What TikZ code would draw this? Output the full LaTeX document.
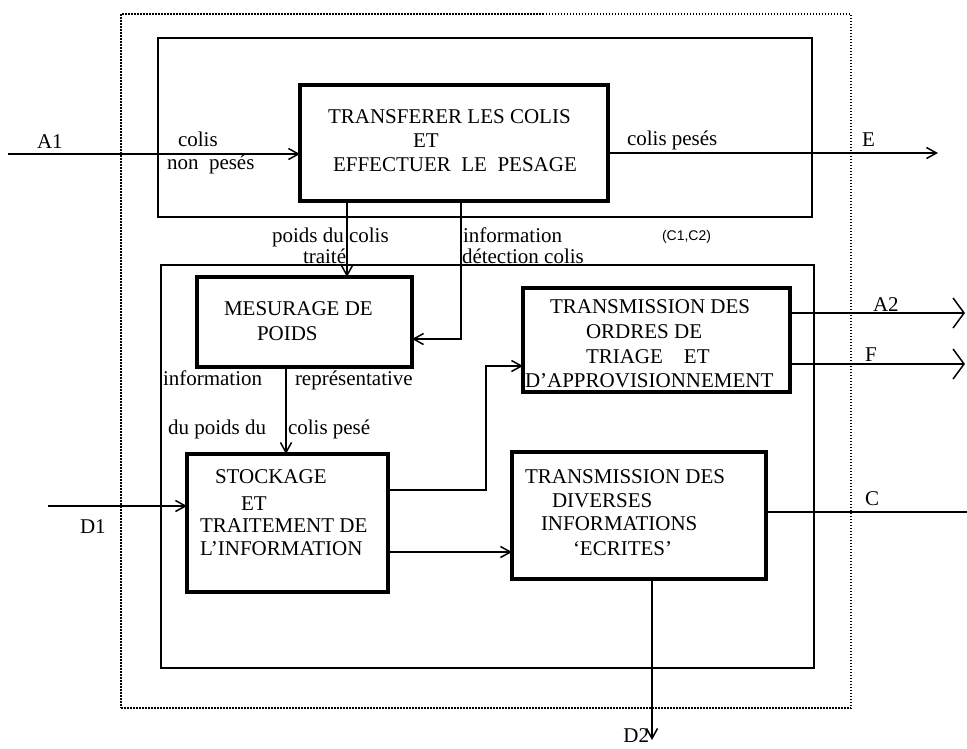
\documentclass[tikz,border=0pt]{standalone}
\usepackage{fontspec}
\setmainfont{Liberation Serif}
\setsansfont{Liberation Sans}
\usetikzlibrary{arrows.meta}
\begin{document}
\begin{tikzpicture}[x=1pt,y=-1pt,
  every node/.style={inner sep=0pt,outer sep=0pt},
  procbox/.style={draw,line width=3.2pt,rectangle},
  frame/.style={draw,line width=1.8pt,rectangle},
  sysbound/.style={draw,line width=1.9pt,dash pattern=on 1.5pt off 1.5pt,rectangle},
  flow/.style={line width=1.5pt,-{Straight Barb[length=10pt,width=11pt,line width=1.5pt]}},
  outflow/.style={line width=1.5pt,-{Straight Barb[length=11pt,width=30pt,line width=1.5pt]}},
  txt/.style={anchor=base west,font=\fontsize{21}{25}\selectfont},
  txtr/.style={anchor=base east,font=\fontsize{21}{25}\selectfont},
  small/.style={anchor=base west,font=\sffamily\fontsize{14}{16}\selectfont}]
\useasboundingbox (0,0) rectangle (967,748);
\clip (0,0) rectangle (967,748);
\fill[white] (0,0) rectangle (967,748);

% system boundary and the two sub-frames
\node[sysbound,minimum width=730pt,minimum height=694pt] (sys) at (486,361) {};
\node[frame,minimum width=654pt,minimum height=179pt] (frameA) at (485,127.5) {};
\node[frame,minimum width=653pt,minimum height=403pt] (frameB) at (487.5,466.5) {};

% process boxes
\node[procbox,minimum width=308pt,minimum height=116pt] (transf) at (454,143) {};
\node[procbox,minimum width=215pt,minimum height=90pt] (mes) at (304.5,322) {};
\node[procbox,minimum width=201pt,minimum height=138pt] (stock) at (287.5,523) {};
\node[procbox,minimum width=267pt,minimum height=104pt] (ordres) at (656.5,340) {};
\node[procbox,minimum width=254pt,minimum height=127pt] (div) at (639,515.5) {};

% box texts
\node[txt] (t1a) at (328,123) {TRANSFERER LES COLIS};
\node[txt] (t1b) at (413,147) {ET};
\node[txt] (t1c) at (333,171) {EFFECTUER\ \ LE\ \ PESAGE};

\node[txt] (t2a) at (224,315) {MESURAGE DE};
\node[txt] (t2b) at (257,340) {POIDS};

\node[txt] (t3a) at (215,483) {STOCKAGE};
\node[txt] (t3b) at (241,510) {ET};
\node[txt] (t3c) at (200,532) {TRAITEMENT DE};
\node[txt] (t3d) at (200,555) {L’INFORMATION};

\node[txt] (t4a) at (550,313) {TRANSMISSION DES};
\node[txt] (t4b) at (586,338) {ORDRES DE};
\node[txt] (t4c) at (586,363) {TRIAGE\ \ \ \ ET};
\node[txt] (t4d) at (525,387) {D’APPROVISIONNEMENT};

\node[txt] (t5a) at (525,483) {TRANSMISSION DES};
\node[txt] (t5b) at (552,507) {DIVERSES};
\node[txt] (t5c) at (541,530) {INFORMATIONS};
\node[txt] (t5d) at (573,555) {‘ECRITES’};

% connector end points
\coordinate (a1in) at (8,154);
\coordinate (eout) at (938,153);
\coordinate (px) at (347,0);
\coordinate (ibend) at (461,339);
\coordinate (mx) at (286,0);
\coordinate (d1in) at (48,506);
\coordinate (sb) at (486,490);
\coordinate (so) at (486,366);
\coordinate (sd) at (0,552);
\coordinate (a2out) at (965,313);
\coordinate (fout) at (965,364);
\coordinate (cout) at (982,512);
\coordinate (d2out) at (652,740);

% connectors
\draw[flow] (a1in) -- (a1in -| transf.west);
\draw[flow] (eout -| transf.east) -- (eout);
\draw[flow] (transf.south -| px) -- (mes.north -| px);
\draw[flow] (transf.south -| ibend) -- (ibend) -- (ibend -| mes.east);
\draw[flow] (mes.south -| mx) -- (stock.north -| mx);
\draw[flow] (d1in) -- (d1in -| stock.west);
\draw[flow] (stock.east |- sb) -- (sb) -- (so) -- (so -| ordres.west);
\draw[flow] (stock.east |- sd) -- (div.west |- sd);
\draw[outflow] (ordres.east |- a2out) -- (a2out);
\draw[outflow] (ordres.east |- fout) -- (fout);
\draw[flow] (div.east |- cout) -- (cout);
\draw[flow] (div.south -| d2out) -- (d2out);

% flow labels
\node[txt] (la1) at (37,148) {A1};
\node[txt] (lc1) at (178,146) {colis};
\node[txt] (lc2) at (167,169) {non\ \ pesés};
\node[txt] (lcp) at (627,145) {colis pesés};
\node[txt] (le) at (862,146) {E};
\node[txt] (lpa) at (272,242) {poids du colis};
\node[txt] (lpb) at (303,263) {traité};
\node[txt] (lia) at (463,242) {information};
\node[txt] (lib) at (462,263) {détection colis};
\node[small] (lcc) at (662,240) {(C1,C2)};
\node[txt] (lra) at (163,385) {information};
\node[txt] (lrb) at (295,385) {représentative};
\node[txt] (lrc) at (168,434) {du poids du};
\node[txt] (lrd) at (288,434) {colis pesé};
\node[txt] (ld1) at (80,533) {D1};
\node[txt] (la2) at (873,311) {A2};
\node[txt] (lf) at (865,361) {F};
\node[txt] (lc) at (865,505) {C};
\node[txtr] (ld2) at (649,742) {D2};
\end{tikzpicture}
\end{document}
